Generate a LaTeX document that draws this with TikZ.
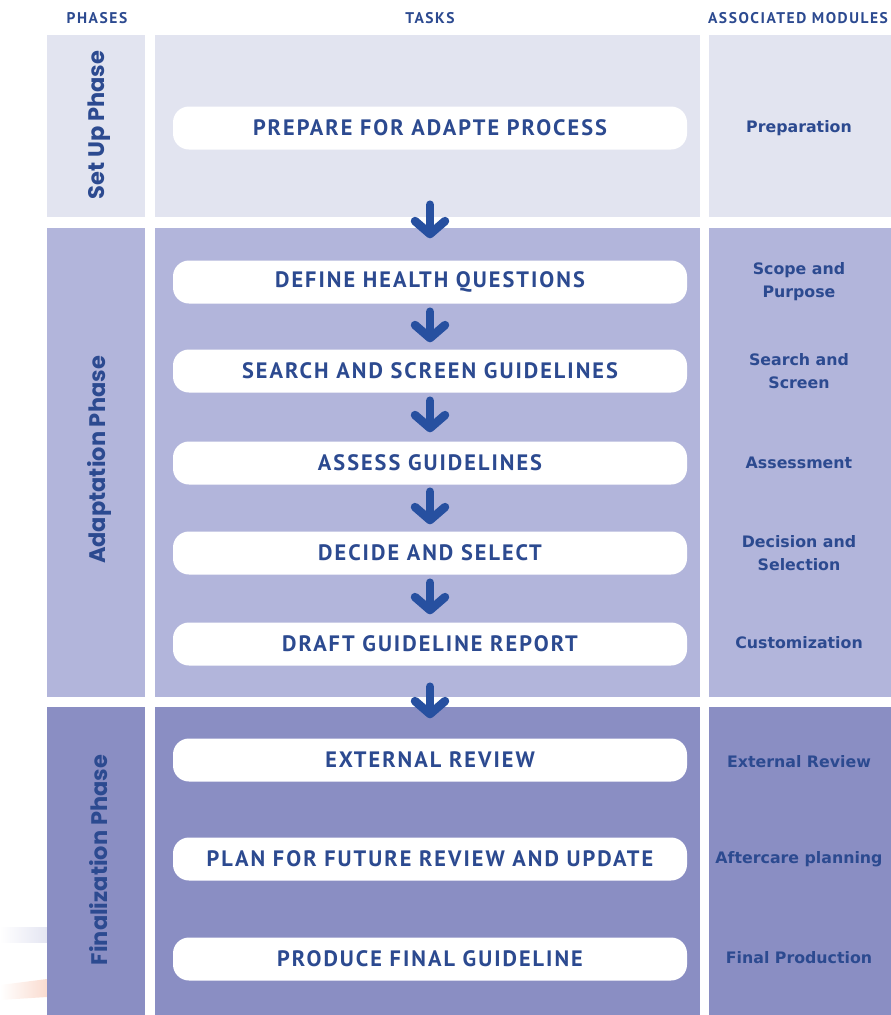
\documentclass[tikz,border=0pt]{standalone}
\usepackage{fontspec}
\usetikzlibrary{arrows.meta}
\newfontfamily\taskfont{PT Sans}[LetterSpace=9]
\newfontfamily\headfont{PT Sans}[LetterSpace=10]
\newfontfamily\phasefont{Poppins}
\newfontfamily\modfont{DejaVu Sans}
\definecolor{rowA}{HTML}{E2E4F0}
\definecolor{rowB}{HTML}{B2B5DB}
\definecolor{rowC}{HTML}{8A8EC3}
\definecolor{textblue}{HTML}{2C4A90}
\definecolor{arrowblue}{HTML}{2750A0}
\definecolor{stripeL}{HTML}{E4E5F2}
\definecolor{stripeO}{HTML}{FADCD0}
\begin{document}
\begin{tikzpicture}[x=1pt,y=-1pt,
  task/.style={fill=white, rounded corners=16pt, minimum width=514pt, minimum height=43pt,
    inner sep=0pt, text=textblue, font=\taskfont\bfseries\fontsize{22.3}{23}\selectfont},
  header/.style={text=textblue, inner sep=0pt, font=\headfont\bfseries\fontsize{15.5}{16}\selectfont},
  phase/.style={text=textblue, rotate=90, inner sep=0pt, font=\phasefont\bfseries\fontsize{22.5}{24}\selectfont},
  module/.style={text=textblue, inner sep=0pt, align=center, font=\modfont\bfseries\fontsize{15.8}{23}\selectfont},
  flow/.style={draw=arrowblue, line width=8.5pt, line cap=round,
    -{Straight Barb[length=13pt, width=30pt, round]}}
]
\useasboundingbox (0,0) rectangle (891,1015);
% faint stripes
\shade[left color=white, right color=stripeL] (0,927) rectangle (47,942);
\shade[left color=white, right color=stripeO] (0,985) -- (47,979) -- (47,997) -- (0,1000) -- cycle;
% panels
\fill[rowA] (47,35) rectangle (145,217);
\fill[rowA] (155,35) rectangle (700,217);
\fill[rowA] (709,35) rectangle (891,217);
\fill[rowB] (47,228) rectangle (145,697);
\fill[rowB] (155,228) rectangle (700,697);
\fill[rowB] (709,228) rectangle (891,697);
\fill[rowC] (47,707) rectangle (145,1015);
\fill[rowC] (155,707) rectangle (700,1015);
\fill[rowC] (709,707) rectangle (891,1015);
% headers
\node[header] (hP) at (97,18) {PHASES};
\node[header] (hT) at (430,18) {TASKS};
\node[header] (hM) at (798,18) {ASSOCIATED MODULES};
% phases
\node[phase] (p1) at (99,125) {Set Up Phase};
\node[phase] (p2) at (99,460) {Adaptation Phase};
\node[phase] (p3) at (99,860) {Finalization Phase};
% tasks
\node[task] (t0) at (430,128) {PREPARE FOR ADAPTE PROCESS};
\node[task] (t1) at (430,282) {DEFINE HEALTH QUESTIONS};
\node[task] (t2) at (430,371) {SEARCH AND SCREEN GUIDELINES};
\node[task] (t3) at (430,463) {ASSESS GUIDELINES};
\node[task] (t4) at (430,553) {DECIDE AND SELECT};
\node[task] (t5) at (430,644) {DRAFT GUIDELINE REPORT};
\node[task] (t6) at (430,760) {EXTERNAL REVIEW};
\node[task] (t7) at (430,859) {PLAN FOR FUTURE REVIEW AND UPDATE};
\node[task] (t8) at (430,959) {PRODUCE FINAL GUIDELINE};
% modules
\node[module] (m0) at (799,128) {Preparation};
\node[module] (m1) at (799,282) {Scope and\\Purpose};
\node[module] (m2) at (799,371) {Search and\\Screen};
\node[module] (m3) at (799,463) {Assessment};
\node[module] (m4) at (799,553) {Decision and\\Selection};
\node[module] (m5) at (799,643) {Customization};
\node[module] (m6) at (799,762) {External Review};
\node[module] (m7) at (799,859) {Aftercare planning};
\node[module] (m8) at (799,958) {Final Production};
% arrows
\draw[flow, shorten <=55pt, shorten >=22pt] (t0.south) -- (t1.north);
\draw[flow, shorten <=8pt, shorten >=7pt] (t1.south) -- (t2.north);
\draw[flow, shorten <=8pt, shorten >=9pt] (t2.south) -- (t3.north);
\draw[flow, shorten <=7pt, shorten >=7pt] (t3.south) -- (t4.north);
\draw[flow, shorten <=8pt, shorten >=8pt] (t4.south) -- (t5.north);
\draw[flow, shorten <=21pt, shorten >=20pt] (t5.south) -- (t6.north);
\end{tikzpicture}
\end{document}
